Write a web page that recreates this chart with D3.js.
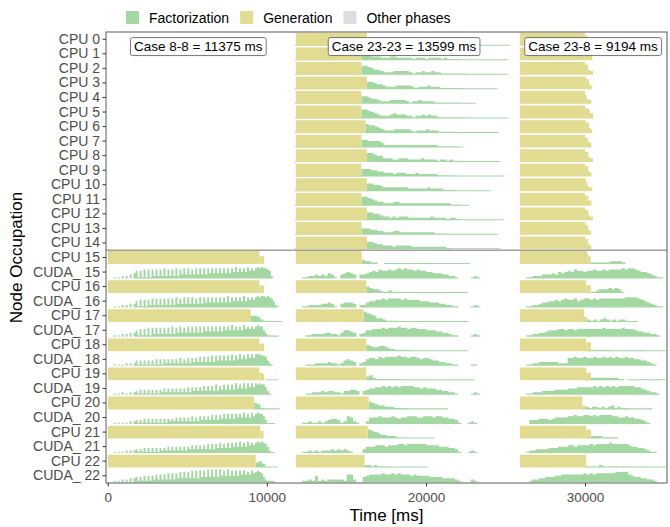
<!DOCTYPE html>
<html>
<head>
<meta charset="utf-8">
<script src="https://cdn.jsdelivr.net/npm/d3@7"></script>
<style>
  body { margin: 0; background: #fff; }
  text { font-family: "Liberation Sans", Arial, sans-serif; }
</style>
</head>
<body>
<div id="chart"></div>
<script>
// ---- data ------------------------------------------------------------
const cpuNames = ["CPU 0", "CPU 1", "CPU 2", "CPU 3", "CPU 4", "CPU 5", "CPU 6", "CPU 7",
  "CPU 8", "CPU 9", "CPU 10", "CPU 11", "CPU 12", "CPU 13", "CPU 14", "CPU 15",
  "CPU 16", "CPU 17", "CPU 18", "CPU 19", "CPU 20", "CPU 21", "CPU 22"];
const cudaNames = ["CUDA_ 15", "CUDA_ 16", "CUDA_ 17", "CUDA_ 18", "CUDA_ 19", "CUDA_ 20", "CUDA_ 21", "CUDA_ 22"];
const phases = ["Factorization", "Generation", "Other phases"];
const caseNames = ["Case 8-8", "Case 23-23", "Case 23-8"];
const caseMs = [11375, 13599, 9194];
const caseStart = [0, 11820, 25900];
const xTicks = [0, 10000, 20000, 30000];

// occupation strings: one char per time bin, "0".."9" = tenths, "a" = full, "." = trace
// Case 8-8 : CPU 15..22 and CUDA 15..22
const gen88End = [9530, 9530, 8990, 9530, 9530, 9200, 9590, 9300];
const gen88Tail = ["666", "666", "", "666", "665", "", "66", ""];                // 100 ms bins
const fac88Cpu = ["", "", "5542......", "", "00....", "541.....", "", "4531..."]; // 200 ms bins
const fac88Cuda = [                                                              // 125 ms bins
  "00010102020304616171717272728272728273838373838383848484848484859585859686898988762" + "0",
  "0001010202030351616162727272727272837383838373838484848484849485858595868689899898752" + "1",
  "00010102020303516161717272727272827383738383838384848484848585958585968686898853" + "11....",
  "000101010202024141414141515152525252625262636373737383848484849485958596969998874210",
  "0001010201020231414141414142525252525252626363637373738374848484958595969698988631",
  "000101010102023131414141414141424252525252625263636373737484848485859585968988" + "63....",
  "000101010202023131414141414242525252525253636363637373748474848585958596868989875" + "2..",
  "00010102020303414151515262626272727383838393939494a4a4a4a595a5959596968697898742" + "11.."
];

// Case 23-23 : all rows
const gen2323End = [16290, 15940, 15940, 16290, 15940, 15940, 16200, 15940, 16290, 15940, 16290,
  15940, 16290, 15940, 16290, 15960, 16250, 16080, 16250, 16250, 16400, 16340, 16140];
const gen2323Tail = ["", "", "", "", "", "", "", "", "", "", "", "", "", "", "", "", "", "", "", "", "", "", ""];
const lead2323From = [11760, 11760, 11760, 11760, 11760, 11760, 11760, 11760, 11760, 11760, 11760,
  11760, 11760, 11760, 11760, null, null, null, null, null, null, null, null];
const fac2323Cpu = [
  "3532211......................................",
  "5443332223322222122212222121111...............",
  "776544322233333212232232211111111.............",
  "665443222333332122232221111111...........",
  "6654432223333321223222211111111.....",
  "776543222343332212232322111111111.............",
  "7665432223333321222322211111..............",
  "665555422222222222222222111111..",
  "77655333223332222322221221211.............",
  "666554433323332223222222111111...............",
  "6655433333333222222322221111...........",
  "7765433222332222222222222222111...",
  "66554332323332222222322221221..............",
  "555443322233222222222221111................",
  "665443332333332222222222211...............",
  "3221100...........................",
  "5433211211......................",
  "87653321111......................",
  "54334432211111..................",
  "34211111111.......................",
  "654332221111.............",
  "76543322211..........",
  "22121111............"
];
const fac2323Cuda = [                                                            // 200 ms bins
  "0011223232431034543033456576676787877676655444332210000121",
  "0011222233431034443022455667677776766665554443322110000121",
  "0001122223322135543023556667677787767766655544332110000121",
  "0001112222322124543023566576777787767765665443322110000110",
  "0001122232332213344303455667676767777665655544332210000121",
  "001121121234431265210025556555654556665566656655443100121",
  "001121212223232321000355566656667767777776666555443100121",
  "001121512122222166200456666766767666565555444433332100021"
];

// Case 23-8 : all rows
const gen238End = [30000, 30050, 30000, 30050, 30000, 30000, 30050, 30000, 30000, 30000, 30050,
  30000, 30000, 30000, 30000, 30140, 30070, 29930, 30070, 30070, 29830, 30070, 30070];
const gen238Tail = ["8843", "8744", "88433", "8843", "7433", "88744", "8843", "8744", "88433",
  "8843", "7433", "8844", "88433", "8743", "8843", "76", "666", "44", "777", "666", "33", "777", ""];
const fac238Cpu = ["", "", "", "", "", "", "", "", "", "", "", "", "", "", "",
  "1111111222210",
  "111233343431",
  "12121232121221...",
  "11111111..1...1..1.......",
  "1222222222110....1....1..",
  "12122121231211........",
  "1222211111",
  "1.1.21.1.1.1.11.........."
];
const fac238Cuda = [
  "001122233343545657665667667677778788765543211",
  "001122344556567667567767677777777888876543211",
  "001122334555665665666666667666667666544332210",
  "001122333333222667667667667676766766554432100",
  "001122233334444555666667676767677777665432210",
  "000333444345555667667767677776655655443210",
  "001223333444555665666676777787777765544321100",
  "000122334445566666667676777777888865443322100"
];

// ---- layout ----------------------------------------------------------
const W = 670, H = 527;
const panel = {left: 106, right: 667, top: 32, bottom: 483};
const colors = {"Factorization": "#a4d8a3", "Generation": "#e2dc93", "Other phases": "#dddddd"};

const rowLabels = cpuNames.slice(0, 15);
for (let k = 15; k <= 22; k++) rowLabels.push(cpuNames[k], cudaNames[k - 15]);

const svg = d3.select("#chart").append("svg")
  .attr("width", W).attr("height", H)
  .style("background", "#fff");

const x = d3.scaleLinear().domain([-110, 35150]).range([panel.left, panel.right]);
const y = d3.scaleBand().domain(rowLabels).range([panel.top, panel.bottom]);
const half = 6.4;

function level(c) {
  if (c === ".") return 0.08;
  if (c === "a") return 1;
  return +c / 10;
}

// build step series
const series = [];
function addSteps(row, phase, t0, step, str) {
  if (!str) return;
  const pts = str.split("").map((c, i) => [t0 + i * step, level(c)]);
  pts.push([t0 + str.length * step, 0]);
  series.push({row, phase, pts});
}
function addBlock(row, phase, t0, t1, v) {
  series.push({row, phase, pts: [[t0, v], [t1, 0]]});
}

// Case 8-8
for (let k = 0; k < 8; k++) {
  const cpu = cpuNames[k + 15];
  addBlock(cpu, "Generation", caseStart[0], gen88End[k], 1);
  addSteps(cpu, "Generation", gen88End[k], 100, gen88Tail[k]);
  addSteps(cpu, "Factorization", gen88End[k], 200, fac88Cpu[k]);
  addSteps(cudaNames[k], "Factorization", caseStart[0], 125, fac88Cuda[k]);
}
// Case 23-23
for (let k = 0; k < 23; k++) {
  const cpu = cpuNames[k];
  if (lead2323From[k] !== null) addBlock(cpu, "Factorization", lead2323From[k], gen2323End[k], 0.08);
  addBlock(cpu, "Generation", caseStart[1], gen2323End[k], 1);
  addSteps(cpu, "Generation", gen2323End[k], 100, gen2323Tail[k]);
  addSteps(cpu, "Factorization", gen2323End[k], 200, fac2323Cpu[k]);
}
fac2323Cuda.forEach((s, k) => addSteps(cudaNames[k], "Factorization", caseStart[1], 200, s));
// Case 23-8
for (let k = 0; k < 23; k++) {
  const cpu = cpuNames[k];
  addBlock(cpu, "Generation", caseStart[2], gen238End[k], 1);
  addSteps(cpu, "Generation", gen238End[k], 100, gen238Tail[k]);
  addSteps(cpu, "Factorization", gen238End[k], 200, fac238Cpu[k]);
}
fac238Cuda.forEach((s, k) => addSteps(cudaNames[k], "Factorization", caseStart[2], 200, s));

series.sort((a, b) => phases.indexOf(a.phase) - phases.indexOf(b.phase));

// ---- drawing ---------------------------------------------------------
svg.append("clipPath").attr("id", "clip")
  .append("rect")
  .attr("x", panel.left).attr("y", panel.top)
  .attr("width", panel.right - panel.left).attr("height", panel.bottom - panel.top);

const plot = svg.append("g").attr("clip-path", "url(#clip)");

plot.selectAll("path.occ")
  .data(series)
  .enter()
  .append("path")
  .attr("class", "occ")
  .attr("fill", d => colors[d.phase])
  .attr("d", d => {
    const base = y(d.row) + y.bandwidth() / 2 + half;
    return d3.area()
      .curve(d3.curveStepAfter)
      .x(p => x(p[0]))
      .y0(base)
      .y1(p => base - p[1] * 2 * half)(d.pts);
  });

// separator between the CPU-only nodes and the CPU+CUDA nodes
svg.append("line")
  .attr("x1", panel.left).attr("x2", panel.right)
  .attr("y1", y("CPU 15")).attr("y2", y("CPU 15"))
  .attr("stroke", "#a0a0a0")
  .attr("stroke-width", 1.3);

// panel border
svg.append("rect")
  .attr("x", panel.left).attr("y", panel.top)
  .attr("width", panel.right - panel.left).attr("height", panel.bottom - panel.top)
  .attr("fill", "none")
  .attr("stroke", "#5a5a5a")
  .attr("stroke-width", 1);

// axes
const yAxis = svg.append("g")
  .attr("transform", `translate(${panel.left},0)`)
  .call(d3.axisLeft(y).tickSize(3.5).tickPadding(2.5));
const xAxis = svg.append("g")
  .attr("transform", `translate(0,${panel.bottom})`)
  .call(d3.axisBottom(x).tickValues(xTicks).tickSize(3.5).tickPadding(5.5).tickFormat(d3.format("d")));
[yAxis, xAxis].forEach(g => {
  g.select(".domain").remove();
  g.selectAll(".tick line").attr("stroke", "#333");
  g.selectAll(".tick text")
    .attr("fill", "#4d4d4d")
    .style("font-family", "'Liberation Sans', Arial, sans-serif");
});
yAxis.selectAll(".tick text").style("font-size", "14px");
xAxis.selectAll(".tick text").style("font-size", "13.5px");

// axis titles
svg.append("text")
  .attr("x", (panel.left + panel.right) / 2).attr("y", 521)
  .attr("text-anchor", "middle")
  .style("font-size", "17px")
  .text("Time [ms]");
svg.append("text")
  .attr("transform", `translate(22,${(panel.top + panel.bottom) / 2}) rotate(-90)`)
  .attr("text-anchor", "middle")
  .style("font-size", "17px")
  .text("Node Occupation");

// case labels
const labelY = (y("CPU 0") + y("CPU 1")) / 2 + y.bandwidth() / 2;
caseNames.forEach((name, i) => {
  const g = svg.append("g");
  const cx = x(caseStart[i] + caseMs[i] / 2);
  const t = g.append("text")
    .attr("x", cx).attr("y", labelY)
    .attr("dy", "0.36em")
    .attr("text-anchor", "middle")
    .style("font-size", "13.5px")
    .text(`${name} = ${caseMs[i]} ms`);
  const bb = t.node().getBBox();
  g.insert("rect", "text")
    .attr("x", bb.x - 3.5).attr("y", labelY - 9)
    .attr("width", bb.width + 7).attr("height", 18)
    .attr("rx", 2)
    .attr("fill", "#fff")
    .attr("stroke", "#555")
    .attr("stroke-width", 0.8);
});

// legend
const legend = svg.append("g");
let lx = 126;
phases.forEach(p => {
  legend.append("rect")
    .attr("x", lx).attr("y", 11)
    .attr("width", 13).attr("height", 13)
    .attr("fill", colors[p]);
  const t = legend.append("text")
    .attr("x", lx + 23).attr("y", 22.5)
    .style("font-size", "14px")
    .text(p);
  lx += 23 + t.node().getComputedTextLength() + 11;
});
</script>
</body>
</html>
